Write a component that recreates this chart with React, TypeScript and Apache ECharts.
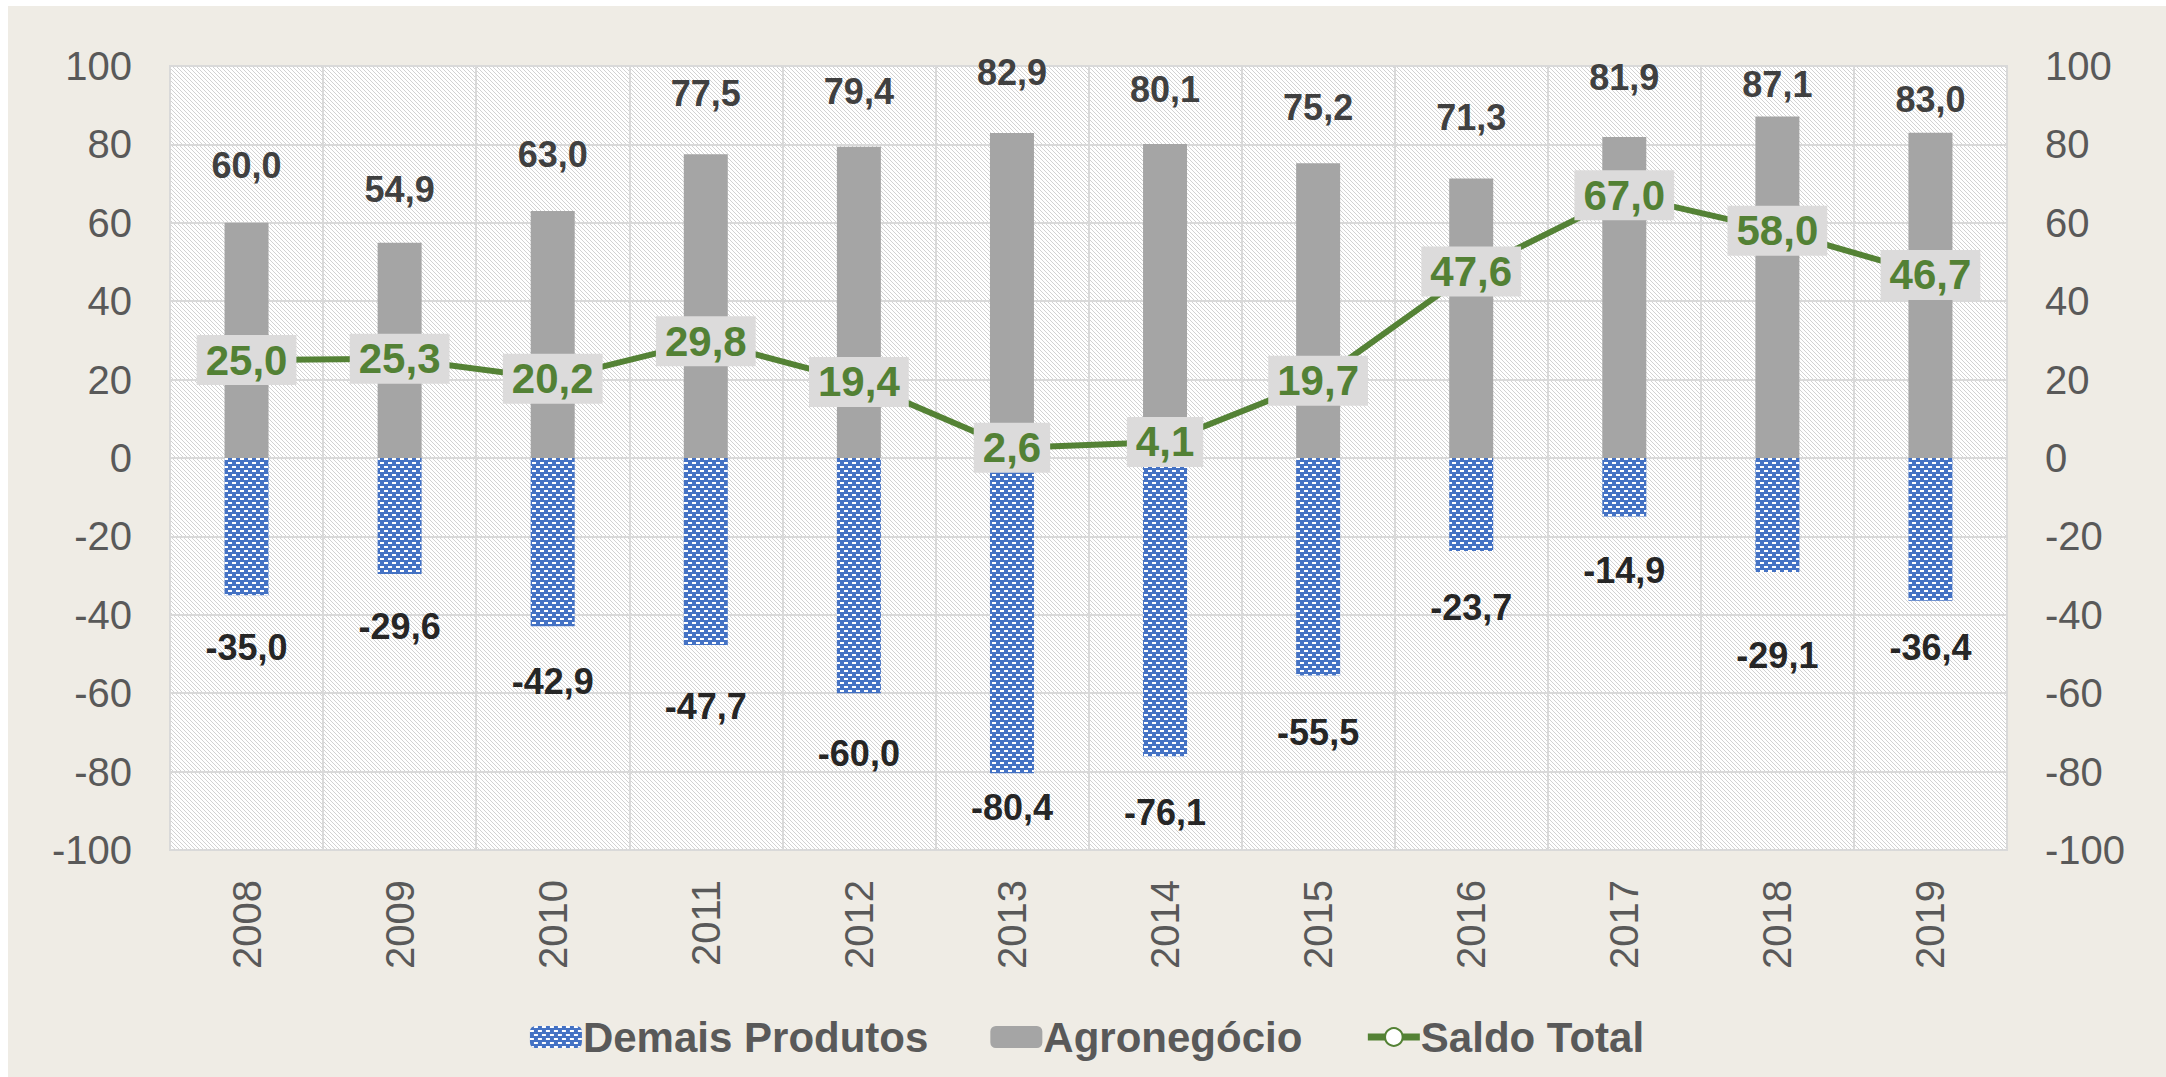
import React, { useEffect, useRef } from "react";
import * as echarts from "echarts";

const years = ["2008", "2009", "2010", "2011", "2012", "2013", "2014", "2015", "2016", "2017", "2018", "2019"];
const demaisProdutos = [-35.0, -29.6, -42.9, -47.7, -60.0, -80.4, -76.1, -55.5, -23.7, -14.9, -29.1, -36.4];
const agronegocio = [60.0, 54.9, 63.0, 77.5, 79.4, 82.9, 80.1, 75.2, 71.3, 81.9, 87.1, 83.0];
const saldoTotal = [25.0, 25.3, 20.2, 29.8, 19.4, 2.6, 4.1, 19.7, 47.6, 67.0, 58.0, 46.7];
const yTicks = { min: -100, max: 100, interval: 20 };

// label gaps (px) between bar end and its label, as placed in the reference
const agroLabelGap = [39, 35, 39, 43, 37, 43, 37, 38, 43, 41, 14, 15];
const demaisLabelGap = [34, 34, 37, 44, 42, 16, 38, 39, 39, 36, 65, 29];

const FONT = "'Liberation Sans', Arial, sans-serif";
const fmt = (v: number) => v.toFixed(1).replace(".", ",");

function makeHatch() {
  const c = document.createElement("canvas");
  c.width = 4;
  c.height = 4;
  const ctx = c.getContext("2d")!;
  ctx.fillStyle = "#ffffff";
  ctx.fillRect(0, 0, 4, 4);
  ctx.fillStyle = "#d2d2d2";
  for (let i = 0; i < 4; i++) ctx.fillRect(i, i, 1, 1);
  return c.toDataURL();
}

export default function App() {
  const ref = useRef<HTMLDivElement>(null);
  useEffect(() => {
    if (!ref.current) return;
    const chart = echarts.init(ref.current, null, { renderer: "svg" });
    const hatch = makeHatch();
    const axisLabelStyle = { fontSize: 40, color: "#595959", fontFamily: FONT };
    chart.setOption({
      animation: false,
      backgroundColor: "#EFECE5",
      textStyle: { fontFamily: FONT },
      grid: {
        left: 162,
        top: 60,
        right: 159,
        bottom: 227,
        show: true,
        backgroundColor: { image: hatch, repeat: "repeat", imageWidth: 4, imageHeight: 4 } as any,
        borderColor: "#d9d9d9",
        borderWidth: 2,
      },
      legend: {
        left: "center",
        top: 1005,
        itemWidth: 52,
        itemHeight: 22,
        itemGap: 62,
        lineStyle: { width: 7 },
        textStyle: { fontSize: 42, fontWeight: "bold", color: "#595959", fontFamily: FONT, padding: [0, 0, 0, -4] },
        data: ["Demais Produtos", "Agronegócio", "Saldo Total"],
      },
      xAxis: {
        type: "category",
        data: years,
        axisLine: { show: false },
        axisTick: { show: false },
        axisLabel: { ...axisLabelStyle, rotate: 90, margin: 30 },
        splitLine: { show: true, lineStyle: { color: "#d9d9d9", width: 2 } },
      },
      yAxis: [
        {
          type: "value",
          ...yTicks,
          axisLine: { show: false },
          axisTick: { show: false },
          axisLabel: { ...axisLabelStyle, margin: 38 },
          splitLine: { show: true, lineStyle: { color: "#d9d9d9", width: 2 } },
        },
        {
          type: "value",
          position: "right",
          ...yTicks,
          axisLine: { show: false },
          axisTick: { show: false },
          axisLabel: { ...axisLabelStyle, margin: 38 },
          splitLine: { show: false },
        },
      ],
      series: [
        {
          name: "Demais Produtos",
          type: "bar",
          stack: "total",
          barWidth: 44,
          data: demaisProdutos.map((v, i) => ({ value: v, label: { distance: demaisLabelGap[i] } })),
          itemStyle: {
            color: "#4472C4",
            decal: {
              symbol: "rect",
              symbolSize: 1,
              color: "#ffffff",
              dashArrayX: [[4, 4], [0, 4, 4, 0]],
              dashArrayY: [2, 2],
              rotation: 0,
            },
          },
          label: {
            show: true,
            position: "outside",
            formatter: (p: any) => fmt(p.value),
            fontSize: 36,
            fontWeight: "bold",
            color: "#262626",
            fontFamily: FONT,
          },
          emphasis: { disabled: true },
        },
        {
          name: "Agronegócio",
          type: "bar",
          stack: "total",
          barWidth: 44,
          data: agronegocio.map((v, i) => ({ value: v, label: { distance: agroLabelGap[i] } })),
          itemStyle: { color: "#A5A5A5" },
          label: {
            show: true,
            position: "outside",
            formatter: (p: any) => fmt(p.value),
            fontSize: 36,
            fontWeight: "bold",
            color: "#404040",
            fontFamily: FONT,
          },
          emphasis: { disabled: true },
        },
        {
          name: "Saldo Total",
          type: "line",
          data: saldoTotal,
          symbol: "circle",
          symbolSize: 14,
          lineStyle: { color: "#548235", width: 6 },
          itemStyle: { color: "#ffffff", borderColor: "#548235", borderWidth: 4 },
          label: {
            show: true,
            position: "inside",
            formatter: (p: any) => fmt(p.value),
            fontSize: 42,
            fontWeight: "bold",
            color: "#538135",
            backgroundColor: "#DCDBDB",
            padding: [5, 9, 3, 9],
            fontFamily: FONT,
          },
          z: 5,
          emphasis: { disabled: true },
        },
      ],
    });
    return () => chart.dispose();
  }, []);
  return (
    <div
      ref={ref}
      style={{ position: "absolute", left: 8, top: 6, width: 2158, height: 1071, background: "#EFECE5" }}
    />
  );
}
